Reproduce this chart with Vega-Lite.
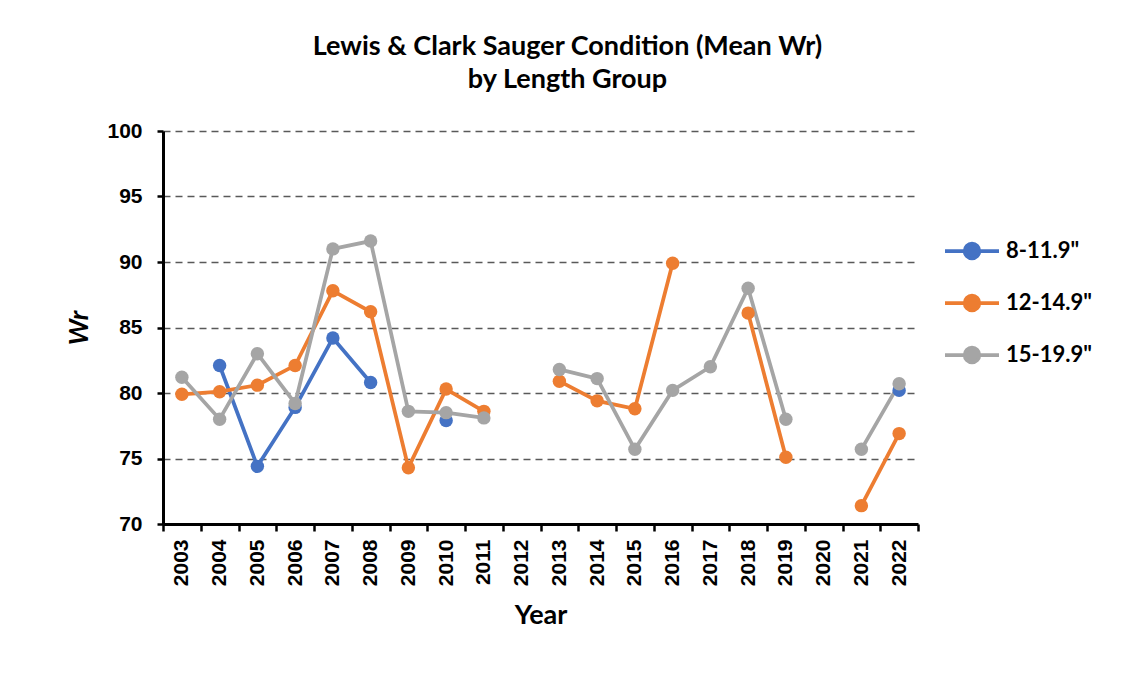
{
  "$schema": "https://vega.github.io/schema/vega-lite/v6.json",
  "width": 755,
  "height": 393,
  "autosize": {"type": "none"},
  "padding": {"left": 163, "top": 131, "right": 216, "bottom": 166},
  "background": "white",
  "config": {"view": {"stroke": null}, "font": "Lato"},
  "title": {
    "text": ["Lewis & Clark Sauger Condition (Mean Wr)", "by Length Group"],
    "anchor": "middle",
    "frame": "group",
    "dx": 27,
    "fontSize": 27,
    "font": "Lato",
    "fontWeight": "bold",
    "color": "black",
    "lineHeight": 33,
    "offset": 26
  },
  "data": {
    "values": [
      {"Year": "2003", "Group": "8-11.9\"", "Wr": null},
      {"Year": "2004", "Group": "8-11.9\"", "Wr": 82.1},
      {"Year": "2005", "Group": "8-11.9\"", "Wr": 74.4},
      {"Year": "2006", "Group": "8-11.9\"", "Wr": 78.9},
      {"Year": "2007", "Group": "8-11.9\"", "Wr": 84.2},
      {"Year": "2008", "Group": "8-11.9\"", "Wr": 80.8},
      {"Year": "2009", "Group": "8-11.9\"", "Wr": null},
      {"Year": "2010", "Group": "8-11.9\"", "Wr": 77.9},
      {"Year": "2011", "Group": "8-11.9\"", "Wr": null},
      {"Year": "2012", "Group": "8-11.9\"", "Wr": null},
      {"Year": "2013", "Group": "8-11.9\"", "Wr": null},
      {"Year": "2014", "Group": "8-11.9\"", "Wr": null},
      {"Year": "2015", "Group": "8-11.9\"", "Wr": null},
      {"Year": "2016", "Group": "8-11.9\"", "Wr": null},
      {"Year": "2017", "Group": "8-11.9\"", "Wr": null},
      {"Year": "2018", "Group": "8-11.9\"", "Wr": null},
      {"Year": "2019", "Group": "8-11.9\"", "Wr": null},
      {"Year": "2020", "Group": "8-11.9\"", "Wr": null},
      {"Year": "2021", "Group": "8-11.9\"", "Wr": null},
      {"Year": "2022", "Group": "8-11.9\"", "Wr": 80.2},
      {"Year": "2003", "Group": "12-14.9\"", "Wr": 79.9},
      {"Year": "2004", "Group": "12-14.9\"", "Wr": 80.1},
      {"Year": "2005", "Group": "12-14.9\"", "Wr": 80.6},
      {"Year": "2006", "Group": "12-14.9\"", "Wr": 82.1},
      {"Year": "2007", "Group": "12-14.9\"", "Wr": 87.8},
      {"Year": "2008", "Group": "12-14.9\"", "Wr": 86.2},
      {"Year": "2009", "Group": "12-14.9\"", "Wr": 74.3},
      {"Year": "2010", "Group": "12-14.9\"", "Wr": 80.3},
      {"Year": "2011", "Group": "12-14.9\"", "Wr": 78.6},
      {"Year": "2012", "Group": "12-14.9\"", "Wr": null},
      {"Year": "2013", "Group": "12-14.9\"", "Wr": 80.9},
      {"Year": "2014", "Group": "12-14.9\"", "Wr": 79.4},
      {"Year": "2015", "Group": "12-14.9\"", "Wr": 78.8},
      {"Year": "2016", "Group": "12-14.9\"", "Wr": 89.9},
      {"Year": "2017", "Group": "12-14.9\"", "Wr": null},
      {"Year": "2018", "Group": "12-14.9\"", "Wr": 86.1},
      {"Year": "2019", "Group": "12-14.9\"", "Wr": 75.1},
      {"Year": "2020", "Group": "12-14.9\"", "Wr": null},
      {"Year": "2021", "Group": "12-14.9\"", "Wr": 71.4},
      {"Year": "2022", "Group": "12-14.9\"", "Wr": 76.9},
      {"Year": "2003", "Group": "15-19.9\"", "Wr": 81.2},
      {"Year": "2004", "Group": "15-19.9\"", "Wr": 78.0},
      {"Year": "2005", "Group": "15-19.9\"", "Wr": 83.0},
      {"Year": "2006", "Group": "15-19.9\"", "Wr": 79.2},
      {"Year": "2007", "Group": "15-19.9\"", "Wr": 91.0},
      {"Year": "2008", "Group": "15-19.9\"", "Wr": 91.6},
      {"Year": "2009", "Group": "15-19.9\"", "Wr": 78.6},
      {"Year": "2010", "Group": "15-19.9\"", "Wr": 78.5},
      {"Year": "2011", "Group": "15-19.9\"", "Wr": 78.1},
      {"Year": "2012", "Group": "15-19.9\"", "Wr": null},
      {"Year": "2013", "Group": "15-19.9\"", "Wr": 81.8},
      {"Year": "2014", "Group": "15-19.9\"", "Wr": 81.1},
      {"Year": "2015", "Group": "15-19.9\"", "Wr": 75.7},
      {"Year": "2016", "Group": "15-19.9\"", "Wr": 80.2},
      {"Year": "2017", "Group": "15-19.9\"", "Wr": 82.0},
      {"Year": "2018", "Group": "15-19.9\"", "Wr": 88.0},
      {"Year": "2019", "Group": "15-19.9\"", "Wr": 78.0},
      {"Year": "2020", "Group": "15-19.9\"", "Wr": null},
      {"Year": "2021", "Group": "15-19.9\"", "Wr": 75.7},
      {"Year": "2022", "Group": "15-19.9\"", "Wr": 80.7}
    ]
  },
  "encoding": {
    "x": {
      "field": "Year",
      "type": "ordinal",
      "scale": {
        "type": "band",
        "paddingInner": 0,
        "paddingOuter": 0,
        "domain": ["2003","2004","2005","2006","2007","2008","2009","2010","2011","2012","2013","2014","2015","2016","2017","2018","2019","2020","2021","2022"]
      },
      "axis": {
        "title": "Year",
        "titleFont": "Lato",
        "titleFontSize": 27,
        "titleFontWeight": "bold",
        "titleColor": "black",
        "titlePadding": 17,
        "labelAngle": 270,
        "labelFont": "Liberation Sans",
        "labelFontSize": 21,
        "labelFontWeight": "bold",
        "labelColor": "black",
        "labelPadding": 8,
        "domainColor": "black",
        "domainWidth": 3,
        "tickColor": "black",
        "tickWidth": 2.5,
        "tickSize": 7,
        "tickBand": "extent",
        "grid": false
      }
    },
    "y": {
      "field": "Wr",
      "type": "quantitative",
      "scale": {"domain": [70, 100], "nice": false, "zero": false},
      "axis": {
        "title": "Wr",
        "titleFont": "Lato",
        "titleFontSize": 27,
        "titleFontWeight": "bold",
        "titleFontStyle": "italic",
        "titleColor": "black",
        "titlePadding": 13,
        "values": [70, 75, 80, 85, 90, 95, 100],
        "labelFont": "Liberation Sans",
        "labelFontSize": 21,
        "labelFontWeight": "bold",
        "labelColor": "black",
        "labelPadding": 15,
        "domainColor": "black",
        "domainWidth": 3,
        "tickColor": "black",
        "tickWidth": 2.5,
        "tickSize": 6,
        "grid": true,
        "gridColor": "#595959",
        "gridDash": [7, 5],
        "gridWidth": 1.5
      }
    },
    "color": {
      "field": "Group",
      "type": "nominal",
      "scale": {
        "domain": ["8-11.9\"", "12-14.9\"", "15-19.9\""],
        "range": ["#4472C4", "#ED7D31", "#A5A5A5"]
      },
      "legend": {
        "orient": "none",
        "legendX": 780,
        "legendY": 91,
        "title": null,
        "symbolType": "M-1,0L1,0M-0.27,0A0.27,0.27,0,1,0,0.27,0A0.27,0.27,0,1,0,-0.27,0",
        "symbolSize": 2916,
        "symbolStrokeWidth": 3.75,
        "labelFont": "Lato",
        "labelFontSize": 22,
        "labelFontWeight": "bold",
        "labelColor": "black",
        "labelOffset": 5,
        "rowPadding": 8,
        "encode": {
          "symbols": {
            "update": {
              "fill": {"signal": "scale('color', datum.value)"},
              "stroke": {"signal": "scale('color', datum.value)"},
              "opacity": {"value": 1}
            }
          }
        }
      }
    }
  },
  "layer": [
    {"mark": {"type": "line", "strokeWidth": 3.75, "invalid": "break-paths-filter-domains"}},
    {"mark": {"type": "point", "filled": true, "size": 180, "opacity": 1}}
  ]
}
